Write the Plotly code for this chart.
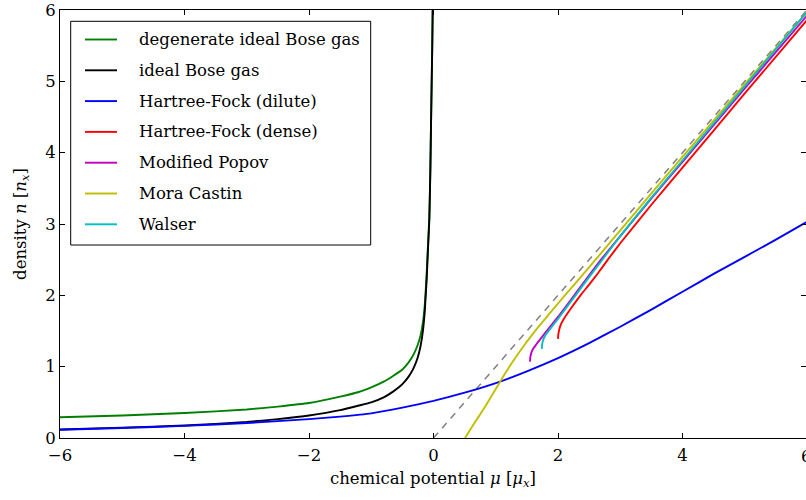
import plotly.graph_objects as go

# ---------------- data (chemical potential mu [mu_x] -> density n [n_x]) ----------------
ideal_deg_mu = [-6, -5, -4, -3, -2.5, -2, -1.5, -1.2, -1.0, -0.8, -0.65, -0.5, -0.4, -0.32,
                -0.26, -0.21, -0.17, -0.14, -0.11, -0.09, -0.067, -0.05, -0.04, -0.03, -0.02, -0.013]
ideal_deg_n = [0.29, 0.315, 0.35, 0.40, 0.44, 0.49, 0.58, 0.645, 0.71, 0.79, 0.87, 0.96, 1.06, 1.17,
               1.29, 1.43, 1.62, 1.87, 2.30, 2.68, 3.10, 3.80, 4.40, 4.95, 5.5, 6.0]

ideal_mu = [-6, -5, -4, -3, -2.5, -2, -1.5, -1.2, -1.0, -0.8, -0.65, -0.5, -0.4, -0.32,
            -0.26, -0.21, -0.17, -0.14, -0.11, -0.09, -0.067, -0.05, -0.04, -0.03, -0.02, -0.013]
ideal_n = [0.12, 0.145, 0.175, 0.225, 0.265, 0.315, 0.39, 0.455, 0.50, 0.57, 0.65, 0.755, 0.86, 0.98,
           1.11, 1.28, 1.50, 1.78, 2.22, 2.62, 3.06, 3.78, 4.38, 4.93, 5.5, 6.0]

hf_dilute_mu = [-6, -5, -4, -3, -2, -1.5, -1, -0.5, 0, 0.5, 1, 1.5, 2, 2.5, 3, 3.5, 4, 4.5, 5, 5.5, 6]
hf_dilute_n = [0.115, 0.14, 0.17, 0.21, 0.265, 0.30, 0.345, 0.425, 0.52, 0.635, 0.77, 0.935, 1.12, 1.33,
               1.56, 1.80, 2.05, 2.30, 2.54, 2.78, 3.03]

hf_dense_mu = [2.0, 2.005, 2.02, 2.05, 2.10, 2.17, 2.26, 2.37, 2.5, 2.65, 2.8, 3.0, 3.5, 4.0, 4.5, 5.0, 6.0]
hf_dense_n = [1.39, 1.45, 1.52, 1.60, 1.68, 1.77, 1.88, 2.01, 2.15, 2.32, 2.50, 2.73, 3.27, 3.79, 4.31,
              4.83, 5.86]

popov_mu = [1.55, 1.555, 1.57, 1.60, 1.65, 1.72, 1.80, 1.90, 2.02, 2.16, 2.32, 2.5, 2.7, 3.0, 3.5, 4.0,
            5.0, 6.0]
popov_n = [1.07, 1.13, 1.19, 1.25, 1.31, 1.39, 1.48, 1.59, 1.72, 1.88, 2.07, 2.28, 2.51, 2.83, 3.36, 3.87,
           4.90, 5.92]

mora_mu = [0.506, 0.65, 0.80, 0.93, 1.07, 1.25, 1.44, 1.65, 1.87, 2.1, 2.33, 2.7, 3.0, 3.5, 4.0, 5.0, 6.0]
mora_n = [0.0, 0.20, 0.40, 0.585, 0.79, 1.04, 1.28, 1.52, 1.75, 1.99, 2.22, 2.60, 2.91, 3.43, 3.94, 4.96, 5.97]

walser_mu = [1.74, 1.745, 1.76, 1.79, 1.84, 1.91, 2.0, 2.11, 2.24, 2.4, 2.6, 2.8, 3.0, 3.5, 4.0, 5.0, 6.0]
walser_n = [1.25, 1.31, 1.37, 1.43, 1.49, 1.57, 1.67, 1.80, 1.95, 2.14, 2.37, 2.60, 2.83, 3.37, 3.89,
            4.93, 5.97]

# reference line n = mu
classical_mu = [0, 6]
classical_n = [0, 6]

series_names = ["degenerate ideal Bose gas", "ideal Bose gas", "Hartree-Fock (dilute)",
                "Hartree-Fock (dense)", "Modified Popov", "Mora Castin", "Walser"]
series_colors = ["#008000", "#000000", "#0000ff", "#ff0000", "#bf00bf", "#bfbf00", "#00bfbf"]
series_data = [(ideal_deg_mu, ideal_deg_n), (ideal_mu, ideal_n), (hf_dilute_mu, hf_dilute_n),
               (hf_dense_mu, hf_dense_n), (popov_mu, popov_n), (mora_mu, mora_n),
               (walser_mu, walser_n)]

x_ticks = [-6, -4, -2, 0, 2, 4, 6]
y_ticks = [0, 1, 2, 3, 4, 5, 6]

# ---------------- layout geometry (pixels) ----------------
W, H = 806, 500
PL, PR, PT, PB = 60, 806, 10, 438          # plot area edges
PX_PER_MU = 62.25                            # horizontal scale
FONT = "DejaVu Serif, serif"
FS = 16.5

def paper(px, py):
    return (px - PL) / (PR - PL), (PB - py) / (PB - PT)

fig = go.Figure()

fig.add_trace(go.Scatter(x=classical_mu, y=classical_n, mode="lines",
                         line=dict(color="#808080", width=1.5, dash="7px,6px"),
                         showlegend=False, hoverinfo="skip"))

for name, color, (xs, ys) in zip(series_names, series_colors, series_data):
    fig.add_trace(go.Scatter(x=xs, y=ys, mode="lines", name=name,
                             line=dict(color=color, width=1.9, shape="spline", smoothing=0.4),
                             showlegend=False))

# ---------------- legend box drawn in pixel units ----------------
LEG_L, LEG_T, LEG_R, LEG_B = 70.7, 21.3, 370.7, 245
LINE_X0, LINE_X1, TEXT_X = 85, 117, 137
ROW0, ROW_STEP = 39.5, 30.8

shapes = []
x0, y0 = paper(LEG_L, LEG_B)
x1, y1 = paper(LEG_R, LEG_T)
shapes.append(dict(type="rect", xref="paper", yref="paper", x0=x0, y0=y0, x1=x1, y1=y1,
                   line=dict(color="black", width=1), fillcolor="white", layer="above"))
annotations = []
for i, (name, color) in enumerate(zip(series_names, series_colors)):
    ry = ROW0 + i * ROW_STEP
    lx0, ly = paper(LINE_X0, ry)
    lx1, _ = paper(LINE_X1, ry)
    shapes.append(dict(type="line", xref="paper", yref="paper", x0=lx0, x1=lx1, y0=ly, y1=ly,
                       line=dict(color=color, width=1.9), layer="above"))
    tx, _ = paper(TEXT_X, ry)
    annotations.append(dict(xref="paper", yref="paper", x=tx, y=ly, text=name, showarrow=False,
                            xanchor="left", yanchor="middle",
                            font=dict(family=FONT, size=FS, color="black")))

# the x = 6 tick label sits on the clipped right edge of the figure
x6, _ = paper(PL + 12 * PX_PER_MU, PB)
annotations.append(dict(xref="paper", yref="paper", x=x6, y=0, text="6", showarrow=False,
                        xanchor="center", yanchor="top", yshift=-7,
                        font=dict(family=FONT, size=FS, color="black")))

axis_common = dict(showline=True, linecolor="black", linewidth=1, mirror="ticks",
                   ticks="inside", ticklen=5, tickwidth=1, tickcolor="black",
                   showgrid=False, zeroline=False,
                   tickfont=dict(family=FONT, size=FS, color="black"))

fig.update_layout(
    width=W, height=H,
    margin=dict(l=PL, r=W - PR, t=PT, b=H - PB, autoexpand=False),
    paper_bgcolor="white", plot_bgcolor="white",
    showlegend=False,
    xaxis=dict(range=[-6, -6 + (PR - PL) / PX_PER_MU], tickvals=x_ticks, ticklabelstandoff=2,
               title=dict(text="chemical potential <i>μ</i> [<i>μ<sub>x</sub></i>]",
                          font=dict(family=FONT, size=FS, color="black"), standoff=8),
               **axis_common),
    yaxis=dict(range=[0, 6], tickvals=y_ticks,
               title=dict(text="density <i>n</i> [<i>n<sub>x</sub></i>]",
                          font=dict(family=FONT, size=FS, color="black"), standoff=14),
               **axis_common),
    shapes=shapes,
    annotations=annotations,
)

fig.write_html("out.html")
